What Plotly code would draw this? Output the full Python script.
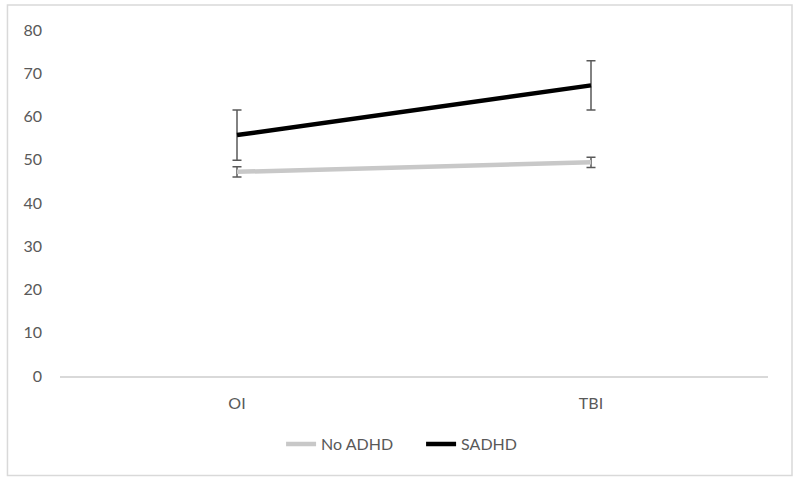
import plotly.graph_objects as go

categories = ["OI", "TBI"]
no_adhd = [47.2, 49.4]
no_adhd_err = [1.2, 1.2]
sadhd = [55.7, 67.2]
sadhd_err = [5.8, 5.7]
y_ticks = [0, 10, 20, 30, 40, 50, 60, 70, 80]

fig = go.Figure()
fig.add_trace(go.Scatter(
    x=categories, y=no_adhd, name="No ADHD", mode="lines",
    line=dict(color="#c8c8c8", width=4.5),
    error_y=dict(type="data", array=no_adhd_err, visible=True,
                 color="#595959", thickness=1.5, width=4.5),
))
fig.add_trace(go.Scatter(
    x=categories, y=sadhd, name="SADHD", mode="lines",
    line=dict(color="#000000", width=4.5),
    error_y=dict(type="data", array=sadhd_err, visible=True,
                 color="#595959", thickness=1.5, width=4.5),
))

font_fam = "Lato, 'Open Sans', sans-serif"
fig.update_layout(
    width=800, height=483,
    margin=dict(l=60, r=32, t=30, b=107),
    paper_bgcolor="white", plot_bgcolor="white",
    font=dict(family=font_fam, size=16, color="#595959"),
    showlegend=True,
    legend=dict(orientation="h", x=0.51, xanchor="center", y=-0.197, yanchor="middle",
                font=dict(size=16, color="#595959"), itemwidth=30, tracegroupgap=0,
                entrywidth=95, entrywidthmode="pixels"),
    xaxis=dict(type="category", range=[-0.5, 1.5], showgrid=False,
               showline=True, linecolor="#d9d9d9", linewidth=1.5,
               ticks="", ticklabelstandoff=12, tickfont=dict(size=16, color="#595959"),
               zeroline=False, fixedrange=True),
    yaxis=dict(range=[0, 80], tickvals=y_ticks, showgrid=False, showline=False,
               zeroline=False, ticks="", ticklabelstandoff=17,
               tickfont=dict(size=16, color="#595959"), fixedrange=True),
    shapes=[dict(type="rect", xref="paper", yref="paper",
                 x0=-0.0742, x1=1.0339, y0=-0.2876, y1=1.0723,
                 line=dict(color="#d9d9d9", width=1.5), fillcolor="rgba(0,0,0,0)", layer="below")],
)

fig.write_html("out.html", config={"displayModeBar": False},
               post_script="document.body.style.margin='0';")
